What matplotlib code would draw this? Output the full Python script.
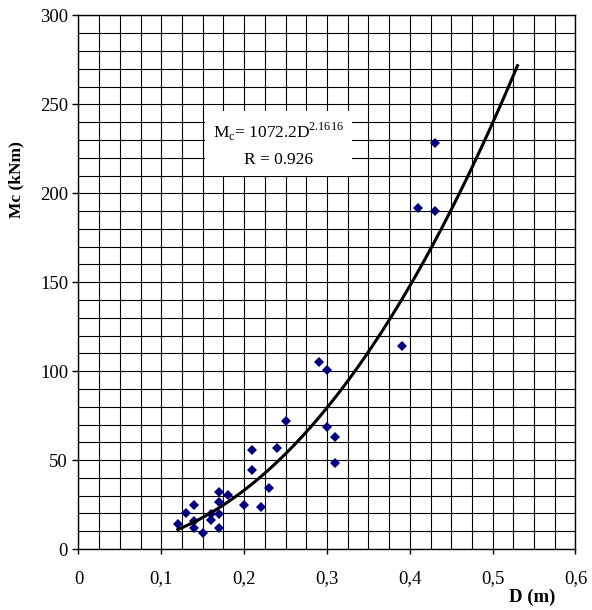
import numpy as np
import matplotlib
matplotlib.use("Agg")
import matplotlib.pyplot as plt

plt.rcParams['font.family'] = ['Liberation Serif', 'DejaVu Serif']
plt.rcParams['mathtext.fontset'] = 'custom'
plt.rcParams['mathtext.rm'] = 'Liberation Serif'

# measured points: diameter D (m) vs moment Mc (kNm)
d_vals = [0.12, 0.13, 0.14, 0.14, 0.14, 0.15, 0.16, 0.16, 0.17, 0.17,
          0.17, 0.17, 0.18, 0.20, 0.21, 0.21, 0.22, 0.23, 0.24, 0.25,
          0.29, 0.30, 0.30, 0.31, 0.31, 0.39, 0.41, 0.43, 0.43]
mc_vals = [14.2, 20.2, 24.8, 15.7, 11.9, 8.8, 19.8, 16.4, 32.0, 26.5,
           19.8, 11.9, 30.1, 24.8, 55.5, 44.2, 23.4, 34.3, 56.8, 71.8,
           105.0, 100.5, 68.7, 63.1, 48.1, 114.0, 192.0, 228.5, 190.0]

# power trendline Mc = a * D^b
fit_a = 1072.2
fit_b = 2.1616
fit_r = 0.926
fit_d = np.linspace(0.12, 0.53, 60)

x_ticks = [0, 0.1, 0.2, 0.3, 0.4, 0.5, 0.6]
x_tick_labels = ['0', '0,1', '0,2', '0,3', '0,4', '0,5', '0,6']
y_ticks = [0, 50, 100, 150, 200, 250, 300]

fig = plt.figure(figsize=(5.92, 6.10), dpi=100)
ax = fig.add_axes([0.1326, 0.1, 0.8395, 0.8746])

# dense grid like the excel sheet
for xv in np.arange(0, 0.6001, 0.025):
    ax.axvline(xv, color='black', lw=0.8, zorder=1)
for yv in np.arange(0, 300.1, 10):
    ax.axhline(yv, color='black', lw=0.8, zorder=1)

ax.plot(d_vals, mc_vals, linestyle='none', marker='D', markersize=5.6,
        color='#000080', markeredgewidth=0, zorder=3)
ax.plot(fit_d, fit_a * fit_d ** fit_b, color='black', lw=2.2, zorder=4)

ax.set_xlim(0, 0.6)
ax.set_ylim(0, 300)
ax.set_xticks(x_ticks)
ax.set_xticklabels(x_tick_labels)
ax.set_yticks(y_ticks)
ax.tick_params(labelsize=13.5, direction='out', width=1)
ax.tick_params(axis='y', length=4.5, pad=3)
ax.tick_params(axis='x', length=3.5, pad=12)
for s in ax.spines.values():
    s.set_linewidth(1)

ax.text(0.2415, 227.5,
        r'M$_\mathregular{c}$= 1072.2D$^\mathregular{2.1616}$' + '\nR = %.3f' % fit_r,
        ha='center', va='center', fontsize=12.5, linespacing=1.75, zorder=5,
        bbox=dict(facecolor='white', edgecolor='none', pad=6))

fig.text(0.028, 0.705, 'Mc (kNm)', rotation=90, ha='center', va='center',
         fontsize=12.5, fontweight='bold')
fig.text(0.8986, 0.0205, 'D (m)', ha='center', va='center',
         fontsize=13.5, fontweight='bold')

fig.savefig('out.png', dpi=100)
